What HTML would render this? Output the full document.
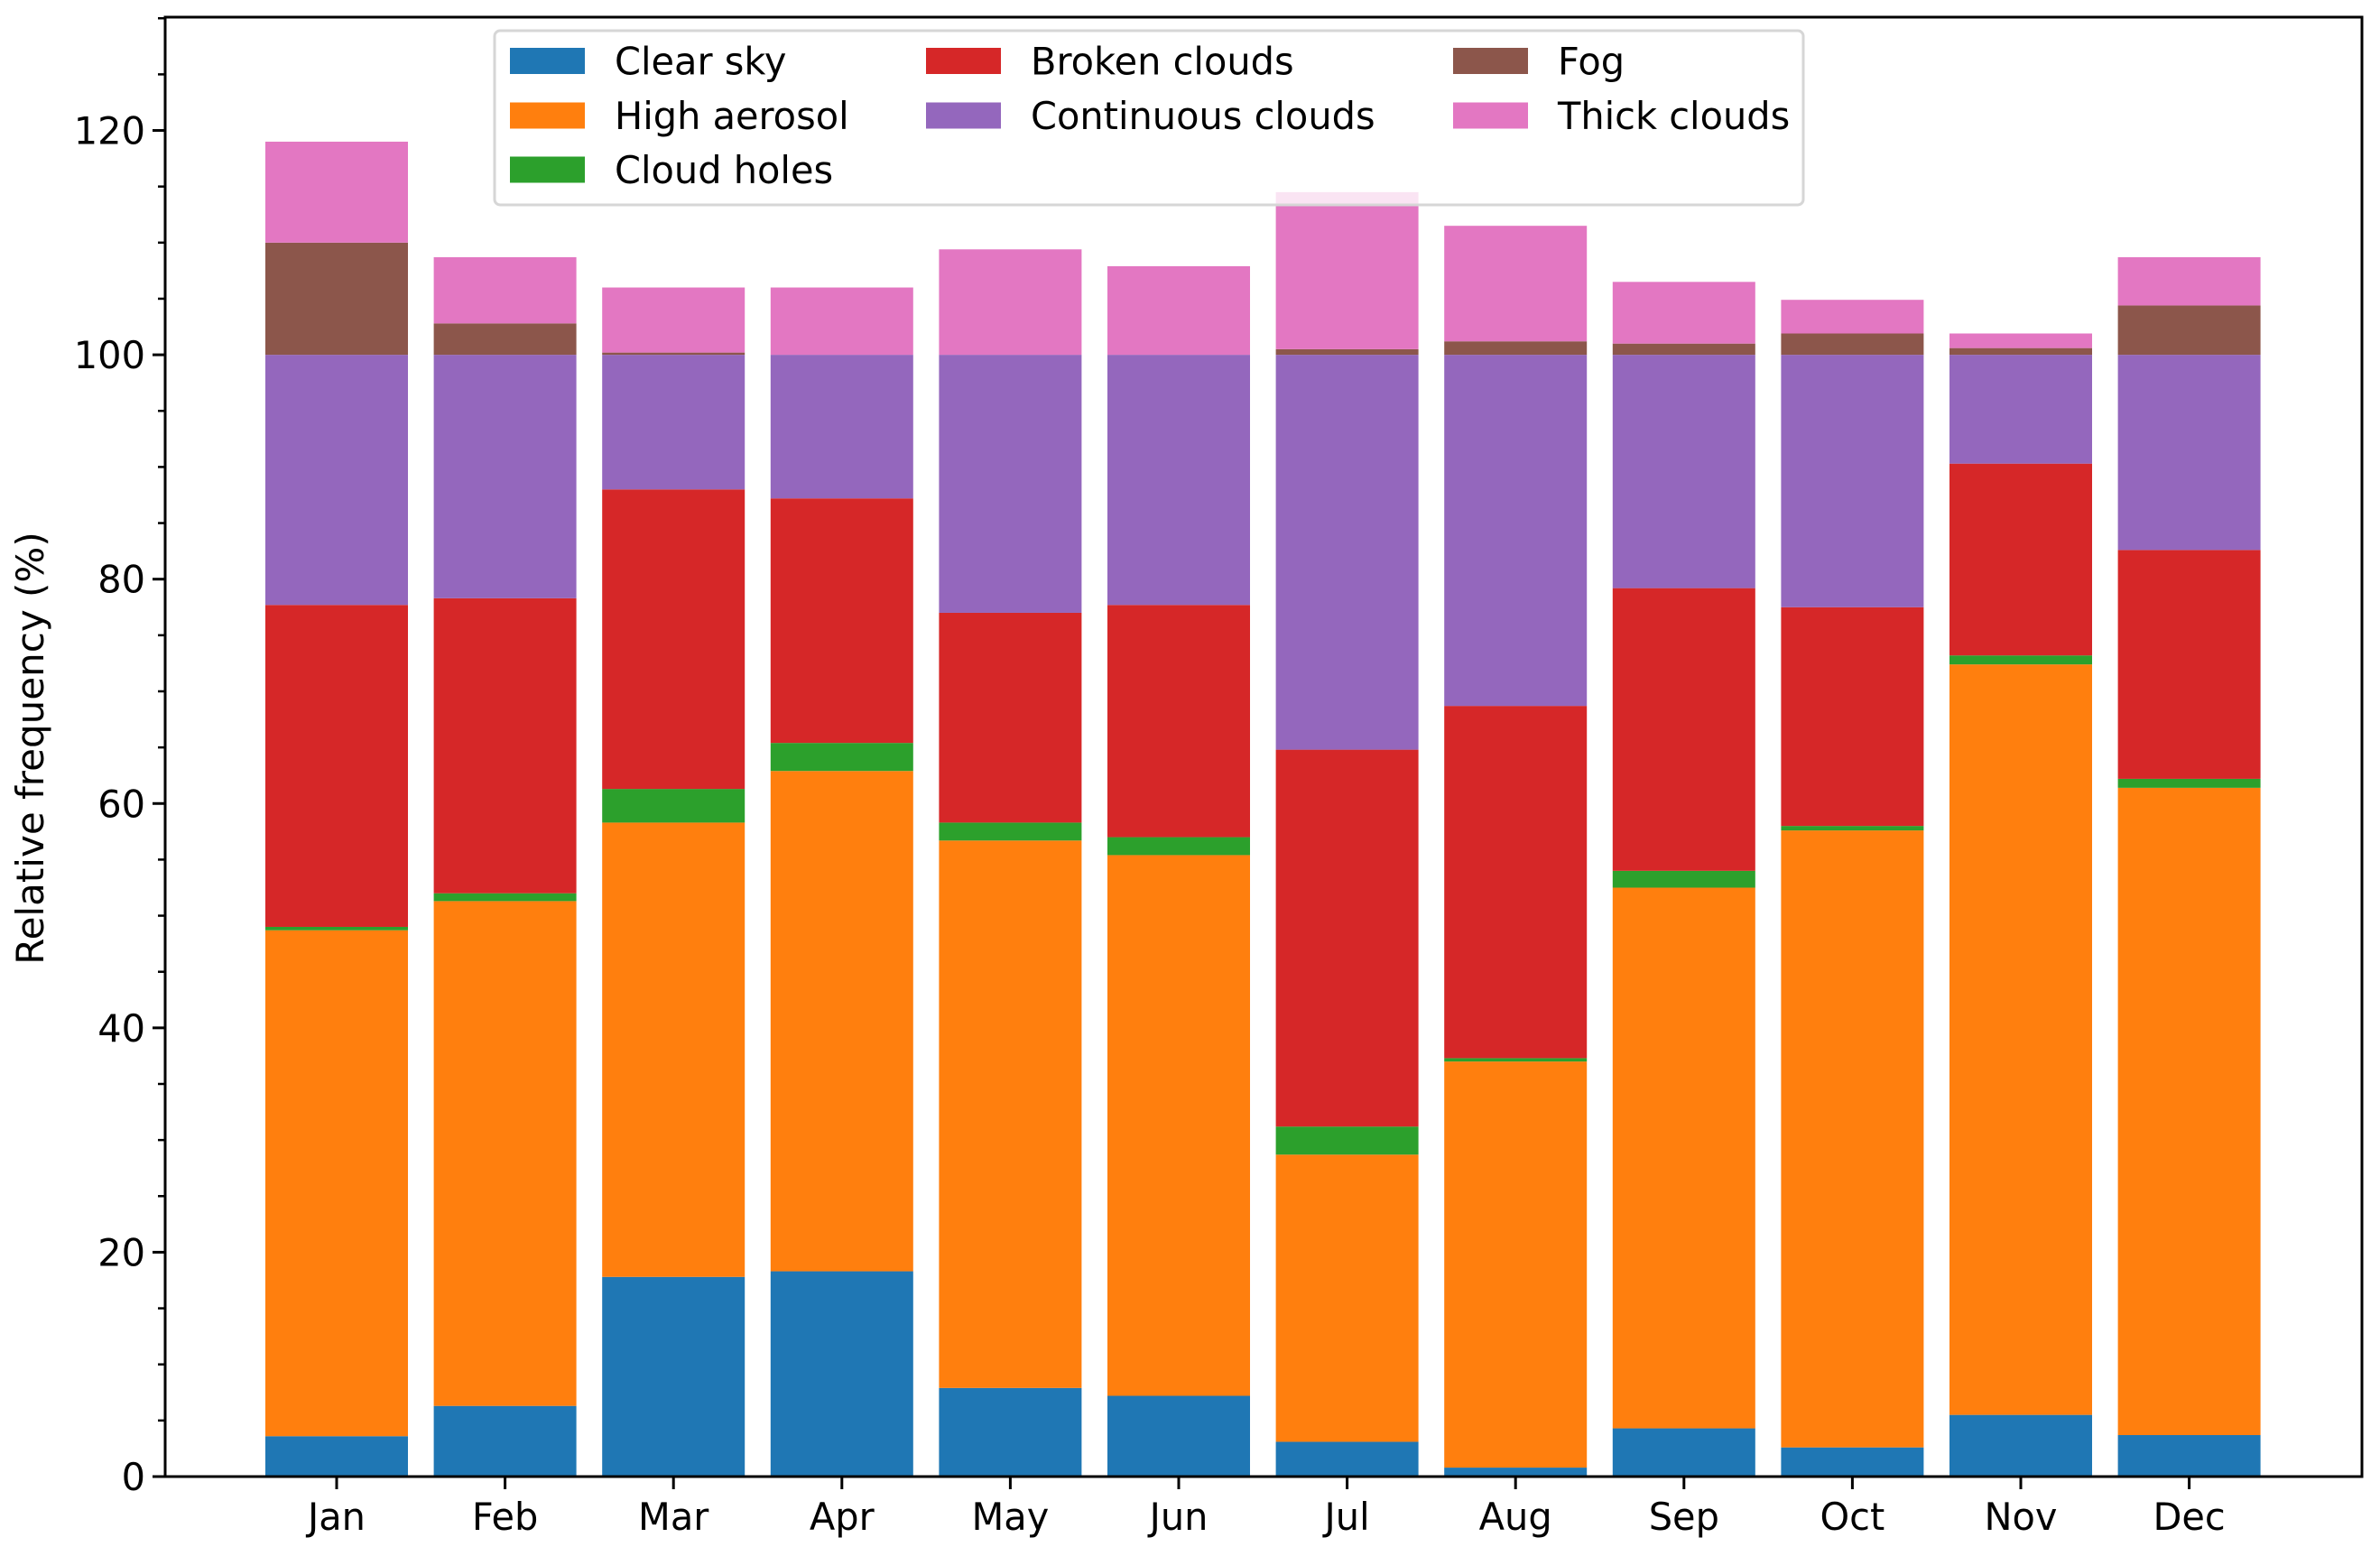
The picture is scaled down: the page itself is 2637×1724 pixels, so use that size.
<!DOCTYPE html>
<html><head><meta charset="utf-8"><style>
html,body{margin:0;padding:0;background:#fff}
svg{display:block;font-family:"DejaVu Sans","Liberation Sans",sans-serif}
</style></head><body>
<svg id="chart" width="2637" height="1724" viewBox="0 0 2637 1724" xmlns="http://www.w3.org/2000/svg">
<rect x="0" y="0" width="2637" height="1724" fill="#fff"/>
<g id="bars"></g>
<g id="axes"></g>
<text transform="translate(48,829) rotate(-90)" text-anchor="middle" font-size="42">Relative frequency (%)</text>
<g id="legend"></g>
</svg>
<script>
const months = ["Jan","Feb","Mar","Apr","May","Jun","Jul","Aug","Sep","Oct","Nov","Dec"];
const seriesNames = ["Clear sky","High aerosol","Cloud holes","Broken clouds","Continuous clouds","Fog","Thick clouds"];
const seriesColors = ["#1f77b4","#ff7f0e","#2ca02c","#d62728","#9467bd","#8c564b","#e377c2"];
const clearSky = [3.6,6.3,17.8,18.3,7.9,7.2,3.1,0.8,4.3,2.6,5.5,3.7];
const highAerosol = [45.1,45.0,40.5,44.6,48.8,48.2,25.6,36.2,48.2,55.0,66.9,57.7];
const cloudHoles = [0.3,0.7,3.0,2.5,1.6,1.6,2.5,0.3,1.5,0.4,0.8,0.8];
const brokenClouds = [28.7,26.3,26.7,21.8,18.7,20.7,33.6,31.4,25.2,19.5,17.1,20.4];
const continuousClouds = [22.3,21.7,12.0,12.8,23.0,22.3,35.2,31.3,20.8,22.5,9.7,17.4];
const fog = [10.0,2.8,0.2,0.0,0.0,0.0,0.5,1.2,1.0,1.9,0.6,4.4];
const thickClouds = [9.0,5.9,5.8,6.0,9.4,7.9,14.0,10.3,5.5,3.0,1.3,4.3];
const yTicks = [0,20,40,60,80,100,120];

const NS="http://www.w3.org/2000/svg";
const L=183,R=2617,T=19,B=1636;
const yMax=130.1;
function yS(v){return B-(B-T)*v/yMax;}
function xS(i){return 373+i*186.6;}
const bw=158;
function mk(tag,attrs,parent){const e=document.createElementNS(NS,tag);for(const k in attrs)e.setAttribute(k,attrs[k]);parent.appendChild(e);return e;}

const series=[clearSky,highAerosol,cloudHoles,brokenClouds,continuousClouds,fog,thickClouds];
const bars=document.getElementById('bars');
months.forEach((m,i)=>{
  let base=0;
  series.forEach((s,k)=>{
    const v=s[i];
    const r=mk('rect',{x:xS(i)-bw/2,y:yS(base+v),width:bw,height:Math.max(0,yS(base)-yS(base+v)),fill:seriesColors[k]},bars);
    
    
    base+=v;
  });
});

const ax=document.getElementById('axes');
const frame=mk('rect',{x:L,y:T,width:R-L,height:B-T,fill:'none',stroke:'#000','stroke-width':3},ax);


for(let v=0;v<=130;v+=5){
  const major=v%20===0;
  const t=mk('line',{x1:L-(major?14:8),x2:L,y1:yS(v),y2:yS(v),stroke:'#000','stroke-width':major?3:2.5},ax);
  
  
}
yTicks.forEach(v=>{
  const t=mk('text',{x:L-22,y:yS(v)+15,'text-anchor':'end','font-size':41.5},ax);
  t.textContent=v;
  
  
});
months.forEach((m,i)=>{
  const t=mk('line',{x1:xS(i),x2:xS(i),y1:B,y2:B+14,stroke:'#000','stroke-width':3},ax);
  
  
  const l=mk('text',{x:xS(i),y:B+59,'text-anchor':'middle','font-size':41.5},ax);
  l.textContent=m;
  
  
});

const lg=document.getElementById('legend');
const box=mk('rect',{x:548,y:34,width:1450,height:193,rx:6,fill:'#fff','fill-opacity':0.8,stroke:'#d6d6d6','stroke-width':3},lg);


const colX=[565,1026,1610], rowY=[67.5,128,188];
seriesNames.forEach((n,k)=>{
  const col = k<3?0:(k<5?1:2);
  const row = k<3?k:(k<5?k-3:k-5);
  const g=mk('g',{},lg);
  
  
  mk('rect',{x:colX[col],y:rowY[row]-14.5,width:83,height:29,fill:seriesColors[k]},g);
  const t=mk('text',{x:colX[col]+116,y:rowY[row]+15,'font-size':41.5},g);
  t.textContent=n;
});
</script>
</body></html>
